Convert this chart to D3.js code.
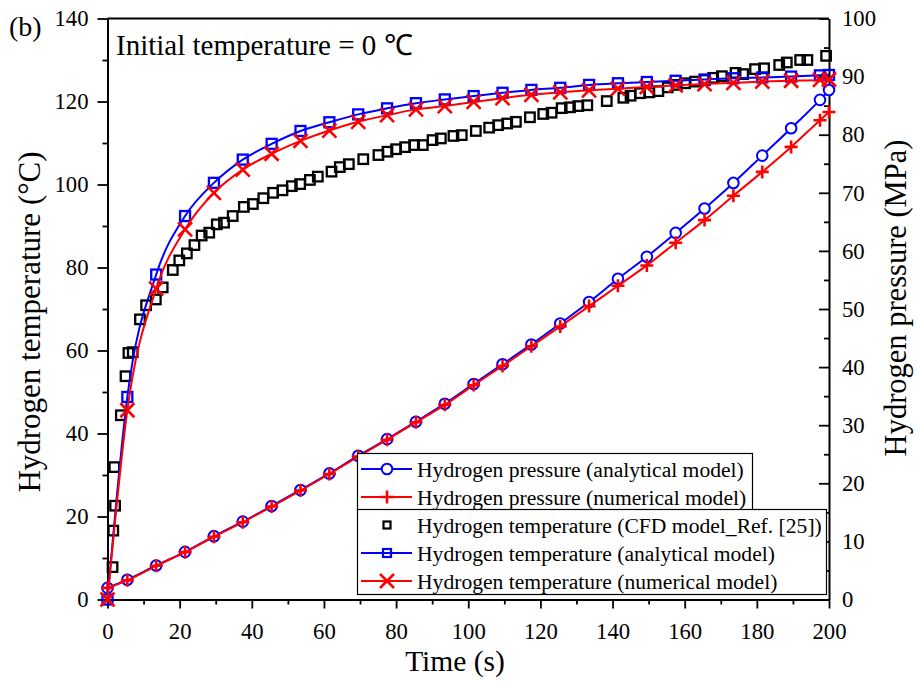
<!DOCTYPE html>
<html>
<head>
<meta charset="utf-8">
<script src="https://cdn.jsdelivr.net/npm/d3@7"></script>
<style>
  body { margin: 0; background: #fff; }
  text { font-family: "Liberation Serif", "Times New Roman", serif; }
</style>
</head>
<body>
<div id="chart"></div>
<script>
/* Hydrogen filling: temperature (left axis) and pressure (right axis) vs time */

// times where the model curves have markers
const markerTimes = [0, 5.5, 13.5, 21.5, 29.5, 37.5, 45.5, 53.5, 61.5, 69.5, 77.5, 85.5, 93.5,
    101.5, 109.5, 117.5, 125.5, 133.5, 141.5, 149.5, 157.5, 165.5, 173.5, 181.5, 189.5, 197.5, 200];

const pressureAnalytical = [2.0, 3.4, 5.85, 8.2, 10.9, 13.4, 16.1, 18.85, 21.7, 24.75, 27.6, 30.6, 33.7,
    37.1, 40.5, 43.9, 47.5, 51.2, 55.2, 59.0, 63.1, 67.3, 71.7, 76.4, 81.1, 86.0, 87.7];

const pressureNumerical = [2.0, 3.3, 5.8, 8.15, 10.8, 13.3, 16.0, 18.75, 21.6, 24.6, 27.5, 30.5, 33.5,
    36.9, 40.2, 43.6, 47.0, 50.5, 54.0, 57.5, 61.4, 65.3, 69.5, 73.6, 77.9, 82.5, 83.9];

const tempAnalytical = [0, 48.8, 78.3, 92.4, 100.4, 106.0, 109.8, 112.9, 115.0, 116.9, 118.35, 119.6, 120.5,
    121.3, 122.1, 122.8, 123.3, 124.0, 124.4, 124.7, 125.0, 125.3, 125.6, 125.8, 126.0, 126.3, 126.4];

const tempNumerical = [0, 45.6, 74.9, 89.2, 98.0, 103.6, 107.4, 110.5, 113.0, 115.1, 116.7, 118.1, 118.9,
    119.9, 120.8, 121.6, 122.2, 122.7, 123.1, 123.5, 123.9, 124.2, 124.5, 124.8, 125.0, 125.2, 125.3];

// CFD results from Ref. [25]
const cfdTime = [1.4, 1.6, 1.9, 2.1, 3.7, 5.0, 5.8, 7.0, 9.0, 10.7, 13.4, 15.3, 18.1, 19.9, 22.0, 24.1,
    26.1, 28.2, 30.3, 32.3, 34.7, 37.8, 40.3, 43.2, 45.9, 48.5, 51.1, 53.4, 56.1, 58.3, 62.1, 64.4,
    66.9, 70.9, 75.1, 77.6, 80.0, 82.5, 85.0, 87.4, 90.1, 92.4, 95.9, 98.2, 102.1, 105.8, 108.3, 110.8,
    113.2, 117.1, 120.8, 123.1, 125.9, 128.2, 130.5, 133.0, 138.4, 143.0, 145.0, 147.6, 150.2, 152.7,
    155.3, 157.8, 160.1, 162.9, 165.6, 167.9, 170.3, 174.1, 176.2, 179.5, 182.0, 186.2, 188.3, 192.0,
    194.0, 199.2];
const cfdTemp = [7.8, 16.6, 31.9, 22.6, 44.4, 53.8, 59.4, 59.6, 67.5, 70.9, 72.3, 75.2, 79.4, 81.7, 83.4, 85.4,
    87.7, 88.4, 90.4, 90.8, 92.4, 94.6, 95.3, 96.7, 98.0, 98.6, 99.6, 100.1, 101.1, 101.9, 103.1, 104.2,
    104.9, 106.1, 107.1, 107.9, 108.5, 109.0, 109.5, 109.5, 110.7, 111.1, 111.7, 111.9, 112.9, 113.7, 114.3, 114.7,
    115.1, 116.2, 117.0, 117.3, 118.4, 118.6, 118.9, 119.1, 120.1, 120.9, 121.4, 122.0, 122.2, 122.5,
    123.4, 124.0, 124.4, 124.8, 125.2, 125.7, 126.1, 126.9, 126.6, 127.8, 128.0, 128.8, 129.4, 130.0,
    130.0, 131.0];

const xTicks = d3.range(0, 201, 20);
const tempTicks = d3.range(0, 141, 20);
const pressTicks = d3.range(0, 101, 10);

const legendLabels = [
    "Hydrogen pressure (analytical model)",
    "Hydrogen pressure (numerical model)",
    "Hydrogen temperature (CFD model_Ref. [25])",
    "Hydrogen temperature (analytical model)",
    "Hydrogen temperature (numerical model)"
];

const width = 917,
      height = 682,
      margin = ({ top: 18.5, right: 88, bottom: 82.5, left: 107.5 });

const FONT = '"Liberation Serif", "Times New Roman", serif';

const svg = d3.select("#chart")
    .append("svg")
    .attr("width", width)
    .attr("height", height);

const x = d3.scaleLinear()
    .domain([0, 200])
    .range([margin.left, width - margin.right]);

const yT = d3.scaleLinear()
    .domain([0, 140])
    .range([height - margin.bottom, margin.top]);

const yP = d3.scaleLinear()
    .domain([0, 100])
    .range([height - margin.bottom, margin.top]);

const BLUE = "#0000ff", RED = "#ff0000";

// ---- axes ----
function styleAxis(g) {
    g.attr("font-family", FONT).attr("font-size", null);
    g.select(".domain").attr("stroke-width", 2);
    g.selectAll(".tick line").attr("stroke-width", 1.8);
    g.selectAll(".tick text").style("font-size", "22.7px").style("font-family", FONT).attr("fill", "#000");
}
function minor(g) {
    g.select(".domain").remove();
    g.selectAll("line").attr("stroke-width", 1.8);
}

// minor ticks first, so the axis lines sit on top
svg.append("g")
    .attr("transform", `translate(0,${height - margin.bottom})`)
    .call(d3.axisBottom(x).tickValues(d3.range(10, 200, 20)).tickSize(5).tickFormat(""))
    .call(minor);

svg.append("g")
    .attr("transform", `translate(${margin.left},0)`)
    .call(d3.axisLeft(yT).tickValues(d3.range(10, 140, 20)).tickSize(5).tickFormat(""))
    .call(minor);

svg.append("g")
    .attr("transform", `translate(${width - margin.right},0)`)
    .call(d3.axisRight(yP).tickValues(d3.range(5, 100, 10)).tickSize(-5).tickFormat(""))
    .call(minor);

svg.append("g")
    .attr("transform", `translate(0,${height - margin.bottom})`)
    .call(d3.axisBottom(x).tickValues(xTicks).tickSize(9).tickSizeOuter(0).tickPadding(14))
    .call(styleAxis);

svg.append("g")
    .attr("transform", `translate(${margin.left},0)`)
    .call(d3.axisLeft(yT).tickValues(tempTicks).tickSize(10).tickSizeOuter(0).tickPadding(9))
    .call(styleAxis);

svg.append("g")
    .attr("transform", `translate(${width - margin.right},0)`)
    .call(d3.axisRight(yP).tickValues(pressTicks).tickSize(-10).tickSizeOuter(0).tickPadding(13))
    .call(styleAxis);

// top frame line
svg.append("line")
    .attr("x1", margin.left).attr("x2", width - margin.right)
    .attr("y1", margin.top).attr("y2", margin.top)
    .attr("stroke", "#000").attr("stroke-width", 2);

// ---- series ----
const line = (yScale, vals) => d3.line()
    .x((d, i) => x(markerTimes[i]))
    .y(d => yScale(d))
    .curve(d3.curveMonotoneX)(vals);

const symSquare = (g, cx, cy, s, color, sw) => g.append("rect")
    .attr("x", cx - s / 2).attr("y", cy - s / 2).attr("width", s).attr("height", s)
    .attr("fill", "none").attr("stroke", color).attr("stroke-width", sw);

const symCircle = (g, cx, cy, color) => g.append("circle")
    .attr("cx", cx).attr("cy", cy).attr("r", 5.3)
    .attr("fill", "#fff").attr("stroke", color).attr("stroke-width", 2);

const symPlus = (g, cx, cy, color) => g.append("path")
    .attr("d", `M${cx - 6.5},${cy}H${cx + 6.5}M${cx},${cy - 6.5}V${cy + 6.5}`)
    .attr("stroke", color).attr("stroke-width", 2.6);

const symCross = (g, cx, cy, color) => g.append("path")
    .attr("d", `M${cx - 7},${cy - 7}L${cx + 7},${cy + 7}M${cx - 7},${cy + 7}L${cx + 7},${cy - 7}`)
    .attr("stroke", color).attr("stroke-width", 2.6);

const plot = svg.append("g");

// pressure, analytical
plot.append("path").attr("d", line(yP, pressureAnalytical))
    .attr("fill", "none").attr("stroke", BLUE).attr("stroke-width", 2);
pressureAnalytical.forEach((v, i) => symCircle(plot, x(markerTimes[i]), yP(v), BLUE));

// pressure, numerical
plot.append("path").attr("d", line(yP, pressureNumerical))
    .attr("fill", "none").attr("stroke", RED).attr("stroke-width", 2);
pressureNumerical.forEach((v, i) => symPlus(plot, x(markerTimes[i]), yP(v), RED));

// CFD temperature
cfdTemp.forEach((v, i) => symSquare(plot, x(cfdTime[i]), yT(v), 9.5, "#000", 2.3));

// temperature, analytical
plot.append("path").attr("d", line(yT, tempAnalytical))
    .attr("fill", "none").attr("stroke", BLUE).attr("stroke-width", 2);
tempAnalytical.forEach((v, i) => symSquare(plot, x(markerTimes[i]), yT(v), 10, BLUE, 2.3));

// temperature, numerical
plot.append("path").attr("d", line(yT, tempNumerical))
    .attr("fill", "none").attr("stroke", RED).attr("stroke-width", 2);
tempNumerical.forEach((v, i) => symCross(plot, x(markerTimes[i]), yT(v), RED));

// ---- legend (two stacked boxes) ----
const leg = svg.append("g");
leg.append("rect").attr("x", 357.5).attr("y", 453.5).attr("width", 395).attr("height", 57)
    .attr("fill", "#fff").attr("stroke", "#000").attr("stroke-width", 1.2);
leg.append("rect").attr("x", 357.5).attr("y", 509.5).attr("width", 469).attr("height", 85)
    .attr("fill", "#fff").attr("stroke", "#000").attr("stroke-width", 1.2);

const rowY = [469, 497, 525, 553, 581];
const rowColor = [BLUE, RED, null, BLUE, RED];
const rowSym = [symCircle, symPlus, null, null, symCross];

legendLabels.forEach((label, i) => {
    const cy = rowY[i];
    if (rowColor[i]) {
        leg.append("line").attr("x1", 361).attr("x2", 412).attr("y1", cy).attr("y2", cy)
            .attr("stroke", rowColor[i]).attr("stroke-width", 2);
    }
    if (i === 2) symSquare(leg, 387, cy, 7, "#000", 2.2);
    else if (i === 3) symSquare(leg, 387, cy, 8, BLUE, 2.2);
    else rowSym[i](leg, 387, cy, rowColor[i]);
    leg.append("text")
        .attr("x", 417).attr("y", cy).attr("dy", "0.35em")
        .style("font-size", "21.6px")
        .text(label);
});

// ---- titles and notes ----
svg.append("text")
    .attr("x", 455).attr("y", 671)
    .attr("text-anchor", "middle")
    .style("font-size", "29.5px")
    .text("Time (s)");

svg.append("text")
    .attr("transform", "translate(40,322) rotate(-90)")
    .attr("text-anchor", "middle")
    .style("font-size", "31px")
    .text("Hydrogen temperature (°C)");

svg.append("text")
    .attr("transform", "translate(906,298) rotate(-90)")
    .attr("text-anchor", "middle")
    .style("font-size", "30.5px")
    .text("Hydrogen pressure (MPa)");

svg.append("text")
    .attr("x", 9).attr("y", 36)
    .style("font-size", "28px")
    .text("(b)");

svg.append("text")
    .attr("x", 116).attr("y", 55)
    .style("font-size", "29px")
    .text("Initial temperature = 0 ℃");
</script>
</body>
</html>
